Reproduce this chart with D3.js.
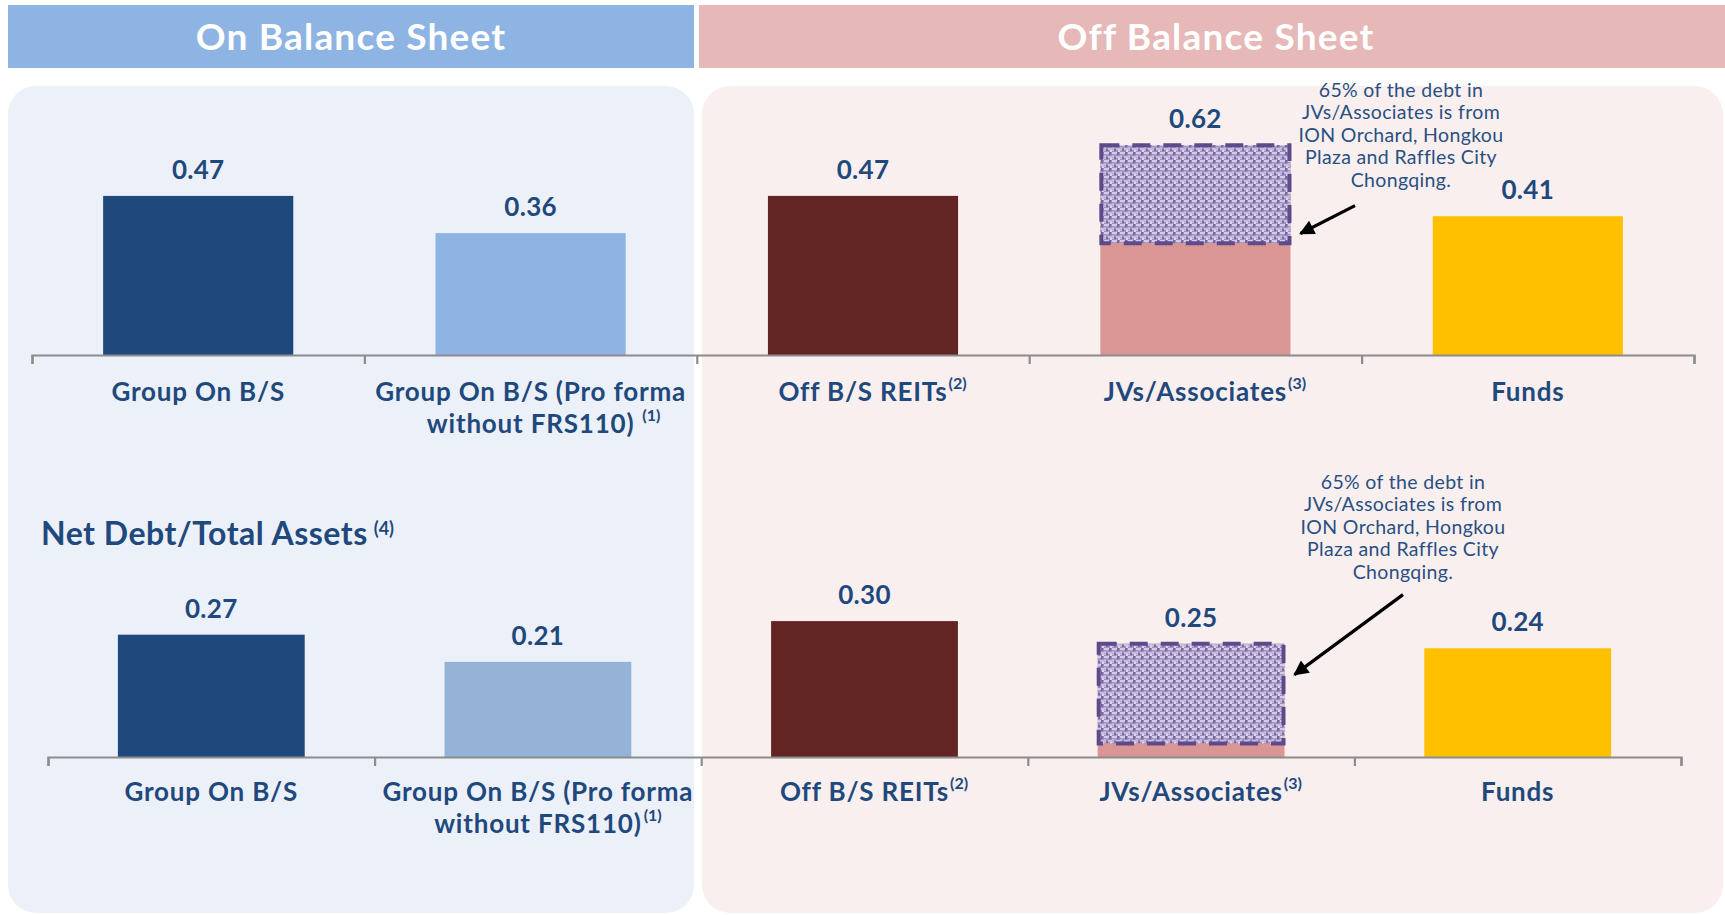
<!DOCTYPE html>
<html>
<head>
<meta charset="utf-8">
<script src="https://cdn.jsdelivr.net/npm/d3@7"></script>
<style>
  body { margin: 0; background: #ffffff; }
  svg { display: block; }
  text { font-family: Lato, "Open Sans", sans-serif; }
</style>
</head>
<body>
<svg id="chart" width="1725" height="915"></svg>
<script>
// ---- data ----
const categories = ["Group On B/S", "Group On B/S (Pro forma without FRS110)", "Off B/S REITs", "JVs/Associates", "Funds"];
const labelLines = [["Group On B/S"], ["Group On B/S (Pro forma", "without FRS110)"], ["Off B/S REITs"], ["JVs/Associates"], ["Funds"]];
const footnotes = ["", "(1)", "(2)", "(3)", ""];
const upperValues = [0.47, 0.36, 0.47, 0.62, 0.41];
const lowerValues = [0.27, 0.21, 0.30, 0.25, 0.24];
const upperColors = ["#1F497D", "#8EB4E3", "#632523", "#D99694", "#FFC000"];
const lowerColors = ["#1F497D", "#95B3D7", "#632523", "#D99694", "#FFC000"];
// share of the JVs/Associates bar attributed to ION Orchard, Hongkou Plaza and Raffles City Chongqing
const upperHighlight = { category: "JVs/Associates", from: 0.33, to: 0.62 };
const lowerHighlight = { category: "JVs/Associates", from: 0.03, to: 0.25 };
const noteLines = ["65% of the debt in", "JVs/Associates is from", "ION Orchard, Hongkou", "Plaza and Raffles City", "Chongqing."];
const sectionTitles = ["On Balance Sheet", "Off Balance Sheet"];
const lowerTitle = "Net Debt/Total Assets";
const lowerTitleNote = "(4)";

// ---- styling / layout ----
const textBlue = "#1F497D";
const noteBlue = "#2A4F82";
const axisGrey = "#8C8C8C";

const svg = d3.select("#chart");
const defs = svg.append("defs");

// woven texture used for the highlighted part of the JVs/Associates bars
const weave = defs.append("pattern")
  .attr("id", "weave").attr("width", 8).attr("height", 8)
  .attr("patternUnits", "userSpaceOnUse");
weave.append("rect").attr("width", 8).attr("height", 8).attr("fill", "#9d8fbf");
[
  [0, 0, 5, 2, "#d3cbe8"], [4, 4, 4, 2, "#c8bee0"], [0, 3, 2, 4, "#bfb4db"],
  [5, 0, 2, 3, "#776799"], [2, 5, 2, 2, "#7d6e9c"], [6, 6, 2, 2, "#dad3ec"],
  [2, 2, 2, 1, "#b3a7d1"]
].forEach(([x, y, w, h, c]) => weave.append("rect")
  .attr("x", x).attr("y", y).attr("width", w).attr("height", h).attr("fill", c));
defs.append("filter").attr("id", "soft")
  .append("feGaussianBlur").attr("stdDeviation", 0.6);

defs.append("marker")
  .attr("id", "arrowHead").attr("markerUnits", "userSpaceOnUse")
  .attr("viewBox", "0 0 10 10").attr("refX", 9).attr("refY", 5)
  .attr("markerWidth", 18).attr("markerHeight", 15).attr("orient", "auto")
  .append("path").attr("d", "M0,0 L10,5 L0,10 Z").attr("fill", "#000");

// ---- section headers and backgrounds ----
const sections = [
  { title: sectionTitles[0], x: 8, w: 686, cx: 351, head: "#8EB4E3", panelX: 8, panelW: 686, panel: "#ECF0F8" },
  { title: sectionTitles[1], x: 699, w: 1026, cx: 1216, head: "#E6B9B8", panelX: 702, panelW: 1021, panel: "#F9EFEF" }
];
const secG = svg.append("g");
secG.selectAll("rect.panel").data(sections).join("rect")
  .attr("class", "panel")
  .attr("x", d => d.panelX).attr("y", 86)
  .attr("width", d => d.panelW).attr("height", 827)
  .attr("rx", 28).attr("fill", d => d.panel);
secG.selectAll("rect.head").data(sections).join("rect")
  .attr("class", "head")
  .attr("x", d => d.x).attr("y", 5).attr("width", d => d.w).attr("height", 63)
  .attr("fill", d => d.head);
secG.selectAll("text.head").data(sections).join("text")
  .attr("class", "head")
  .attr("x", d => d.cx).attr("y", 50)
  .attr("text-anchor", "middle").attr("fill", "#fff")
  .attr("font-size", 37).attr("font-weight", 700).attr("letter-spacing", 1.2)
  .text(d => d.title);

// ---- one bar panel ----
function drawPanel(cfg) {
  const g = svg.append("g");
  const x = d3.scaleBand().domain(categories)
    .range([cfg.x0, cfg.x1]).paddingInner(0.428).paddingOuter(0.214);
  const y = d3.scaleLinear().domain([0, 1]).range([cfg.base, cfg.base - cfg.pxPerUnit]);
  const rows = categories.map((c, i) => ({ c, v: cfg.values[i], color: cfg.colors[i], lines: labelLines[i], note: footnotes[i] }));

  // bars
  g.selectAll("rect.bar").data(rows).join("rect")
    .attr("class", "bar")
    .attr("x", d => x(d.c)).attr("width", x.bandwidth())
    .attr("y", d => y(d.v)).attr("height", d => y(0) - y(d.v))
    .attr("fill", d => d.color);

  // highlighted portion
  const hl = cfg.highlight;
  const hx = x(hl.category), hw = x.bandwidth();
  g.append("rect")
    .attr("x", hx).attr("width", hw)
    .attr("y", y(hl.to)).attr("height", y(hl.from) - y(hl.to))
    .attr("fill", "url(#weave)").attr("filter", "url(#soft)");
  g.append("rect")
    .attr("x", hx + 1).attr("width", hw - 2)
    .attr("y", y(hl.to)).attr("height", y(hl.from) - y(hl.to))
    .attr("fill", "none").attr("stroke", "#5E4A8A").attr("stroke-width", 4)
    .attr("stroke-dasharray", "18 13");

  // axis: baseline with boundary ticks between categories
  const tickScale = d3.scaleLinear().domain([0, categories.length]).range([cfg.x0, cfg.x1]);
  const axis = g.append("g").attr("transform", `translate(0,${cfg.base})`)
    .call(d3.axisBottom(tickScale).ticks(categories.length).tickSize(9).tickSizeOuter(9).tickFormat(""));
  axis.selectAll("path, line").attr("stroke", axisGrey).attr("stroke-width", 2.2);

  // value labels
  g.selectAll("text.val").data(rows).join("text")
    .attr("class", "val")
    .attr("x", d => x(d.c) + x.bandwidth() / 2)
    .attr("y", d => y(d.v) - 17)
    .attr("text-anchor", "middle").attr("fill", textBlue)
    .attr("font-size", 26).attr("font-weight", 700).attr("letter-spacing", 0.3)
    .text(d => d.v.toFixed(2));

  // category labels with footnote markers
  rows.forEach(d => {
    const cx = x(d.c) + x.bandwidth() / 2;
    let last = null;
    d.lines.forEach((ln, k) => {
      last = g.append("text")
        .attr("x", cx).attr("y", cfg.labelY + k * 32)
        .attr("text-anchor", "middle").attr("fill", textBlue)
        .attr("font-size", 26).attr("font-weight", 700).attr("letter-spacing", 0.8)
        .text(ln);
    });
    if (d.note) {
      const w = last.node().getComputedTextLength();
      const gap = d.lines.length > 1 ? cfg.wrapGap : 1;
      g.append("text")
        .attr("x", cx + w / 2 + gap).attr("y", +last.attr("y") - 12)
        .attr("fill", textBlue).attr("font-size", 16).attr("font-weight", 700)
        .text(d.note);
    }
  });

  // explanatory note with arrow pointing at the highlighted block
  const note = g.append("text").attr("text-anchor", "middle")
    .attr("fill", noteBlue).attr("font-size", 19.5).attr("letter-spacing", 0.35);
  noteLines.forEach((ln, k) => note.append("tspan")
    .attr("x", cfg.noteX).attr("y", cfg.noteY + k * 22.4).text(ln));
  const lastBase = cfg.noteY + (noteLines.length - 1) * 22.4;
  const tipY = y(hl.from + (hl.to - hl.from) * cfg.arrowAt);
  g.append("line")
    .attr("x1", cfg.noteX + cfg.tailDx).attr("y1", lastBase + cfg.tailDy)
    .attr("x2", hx + hw + 10).attr("y2", tipY)
    .attr("stroke", "#000").attr("stroke-width", 3.2)
    .attr("marker-end", "url(#arrowHead)");
}

drawPanel({
  values: upperValues, colors: upperColors, highlight: upperHighlight,
  x0: 32, x1: 1694, base: 355, pxPerUnit: 338.5, labelY: 401, wrapGap: 8,
  noteX: 1401, noteY: 97, tailDx: -46, tailDy: 19, arrowAt: 0.1
});
drawPanel({
  values: lowerValues, colors: lowerColors, highlight: lowerHighlight,
  x0: 48, x1: 1681, base: 757, pxPerUnit: 453, labelY: 801, wrapGap: 2,
  noteX: 1403, noteY: 489, tailDx: 0, tailDy: 16, arrowAt: 0.69
});

// lower panel title
const title = svg.append("text")
  .attr("x", 41).attr("y", 545).attr("fill", textBlue)
  .attr("font-size", 32).attr("font-weight", 700).attr("letter-spacing", 0.5)
  .text(lowerTitle);
const tw = title.node().getComputedTextLength();
svg.append("text")
  .attr("x", 41 + tw + 6).attr("y", 535).attr("fill", textBlue)
  .attr("font-size", 18).attr("font-weight", 700).text(lowerTitleNote);
</script>
</body>
</html>
